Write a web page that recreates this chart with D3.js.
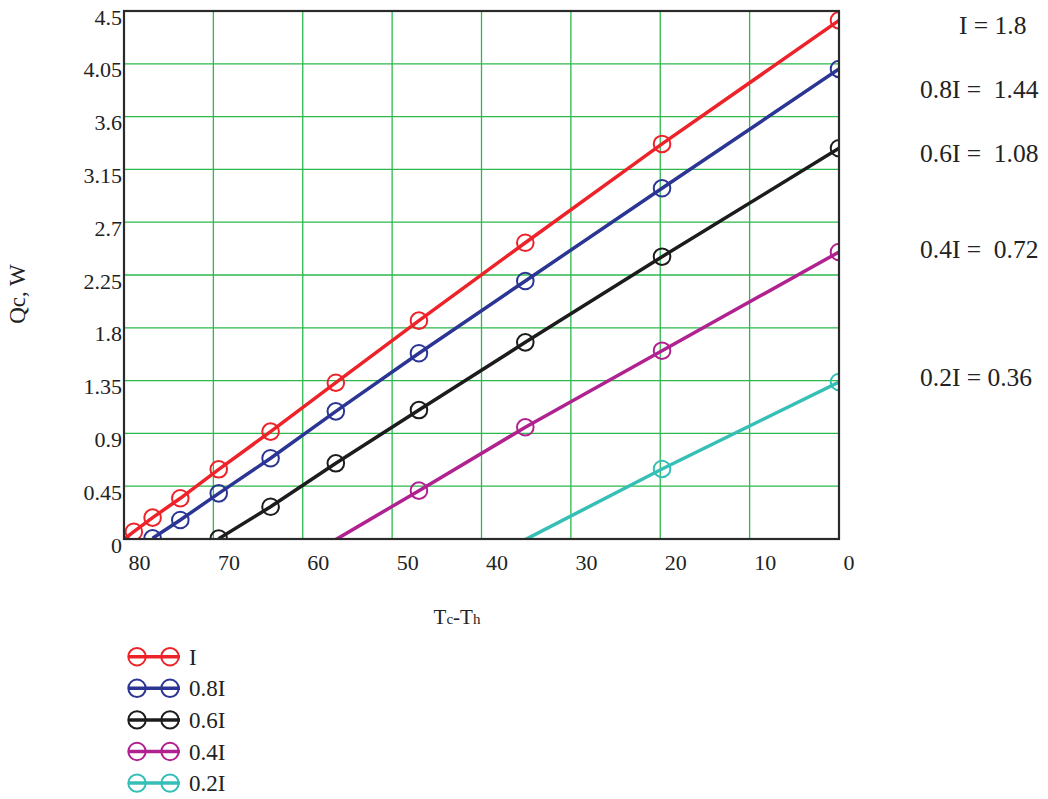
<!DOCTYPE html>
<html>
<head>
<meta charset="utf-8">
<script src="https://cdn.jsdelivr.net/npm/d3@7"></script>
<style>
  html, body { margin: 0; padding: 0; background: #ffffff; }
  svg { display: block; font-family: "Liberation Serif", "DejaVu Serif", serif; }
</style>
</head>
<body>
<svg id="chart" width="1048" height="799"></svg>
<script>
// Temperature difference Tc-Th at which each curve is evaluated
const deltaT = [0, 19.8, 35.1, 47.0, 56.3, 63.6, 69.4, 73.7, 76.8, 78.9, 80.3];

// Cooling power Qc (W) for each current fraction; null = not evaluated
const qcI   = [4.42, 3.367, 2.525, 1.861, 1.332, 0.915, 0.594, 0.347, 0.182, 0.062, -0.02];
const qc08I = [4.006, 2.989, 2.199, 1.583, 1.088, 0.688, 0.389, 0.162, 0.006, null, null];
const qc06I = [3.33, 2.406, 1.676, 1.099, 0.645, 0.275, 0.003, null, null, null, null];
const qc04I = [2.446, 1.605, 0.952, 0.412, -0.005, null, null, null, null, null, null];
const qc02I = [1.338, 0.597, -0.005, null, null, null, null, null, null, null, null];

const seriesNames  = ["I", "0.8I", "0.6I", "0.4I", "0.2I"];
const seriesColors = ["#ee2229", "#2b3593", "#1c1c1c", "#b0228f", "#35bfb6"];
const currentLabels = ["I = 1.8", "0.8I =\u00a0 1.44", "0.6I =\u00a0 1.08", "0.4I =\u00a0 0.72", "0.2I = 0.36"];

const xTicks = [80, 70, 60, 50, 40, 30, 20, 10, 0];
const yTicks = [0, 0.45, 0.9, 1.35, 1.8, 2.25, 2.7, 3.15, 3.6, 4.05, 4.5];

const svg = d3.select("#chart");
const plot = { left: 124, top: 11, right: 839, bottom: 539 };

const x = d3.scaleLinear().domain([80, 0]).range([plot.left, plot.right]);
const y = d3.scaleLinear().domain([0, 4.5]).range([plot.bottom, plot.top]);

svg.append("defs").append("clipPath").attr("id", "plot-clip")
  .append("rect")
  .attr("x", plot.left).attr("y", plot.top)
  .attr("width", plot.right - plot.left).attr("height", plot.bottom - plot.top);

// Grid
const grid = svg.append("g").attr("stroke", "#2db84d").attr("stroke-width", 1.3);
grid.selectAll("line.v").data(xTicks).join("line")
  .attr("x1", d => x(d)).attr("x2", d => x(d))
  .attr("y1", plot.top).attr("y2", plot.bottom);
grid.selectAll("line.h").data(yTicks).join("line")
  .attr("x1", plot.left).attr("x2", plot.right)
  .attr("y1", d => y(d)).attr("y2", d => y(d));

// Axes (labels only; the frame is drawn separately)
const xAxis = svg.append("g")
  .attr("transform", `translate(0,${plot.bottom})`)
  .call(d3.axisBottom(x).tickValues(xTicks).tickSize(0).tickFormat(d3.format("d")));
xAxis.select(".domain").remove();
xAxis.selectAll("text")
  .attr("font-family", "Liberation Serif").attr("font-size", 22)
  .attr("fill", "#222").attr("text-anchor", "start")
  .attr("dx", 4).attr("y", 31).attr("dy", 0);

const yAxis = svg.append("g")
  .attr("transform", `translate(${plot.left},0)`)
  .call(d3.axisLeft(y).tickValues(yTicks).tickSize(0).tickFormat(d => String(+d.toFixed(2))));
yAxis.select(".domain").remove();
yAxis.selectAll("text")
  .attr("font-family", "Liberation Serif").attr("font-size", 22)
  .attr("fill", "#222").attr("x", -2).attr("y", 6).attr("dy", "0.32em");

// Curves
const series = [qcI, qc08I, qc06I, qc04I, qc02I].map((vals, i) => ({
  name: seriesNames[i],
  color: seriesColors[i],
  points: deltaT.map((t, j) => ({ t, q: vals[j] })).filter(p => p.q !== null)
}));

const line = d3.line().x(p => x(p.t)).y(p => y(p.q));
const curves = svg.append("g").attr("clip-path", "url(#plot-clip)");
series.forEach(s => {
  curves.append("path").datum(s.points)
    .attr("d", line).attr("fill", "none")
    .attr("stroke", s.color).attr("stroke-width", 3.5);
  curves.selectAll(null).data(s.points.filter(p => p.q >= 0)).join("circle")
    .attr("cx", p => x(p.t)).attr("cy", p => y(p.q)).attr("r", 8.3)
    .attr("fill", "none").attr("stroke", s.color).attr("stroke-width", 2);
});

// Frame
svg.append("rect")
  .attr("x", plot.left).attr("y", plot.top)
  .attr("width", plot.right - plot.left).attr("height", plot.bottom - plot.top)
  .attr("fill", "none").attr("stroke", "#2a2a2a").attr("stroke-width", 2.2);

// Axis titles
svg.append("text")
  .attr("transform", "translate(25,294) rotate(-90)")
  .attr("text-anchor", "middle").attr("font-size", 23).attr("fill", "#222")
  .text("Qc, W");

const xt = svg.append("text")
  .attr("x", 457).attr("y", 624).attr("text-anchor", "middle")
  .attr("font-size", 21).attr("fill", "#222");
xt.append("tspan").text("T");
xt.append("tspan").attr("font-size", 15).text("c");
xt.append("tspan").text("-T");
xt.append("tspan").attr("font-size", 15).text("h");

// Current values
const labelX = [959, 920, 920, 920, 920];
const labelY = [34, 98, 162, 258, 386];
svg.append("g").selectAll("text").data(currentLabels).join("text")
  .attr("x", (d, i) => labelX[i]).attr("y", (d, i) => labelY[i])
  .attr("font-size", 25.5).attr("fill", "#222")
  .text(d => d);

// Legend
const legend = svg.append("g");
series.forEach((s, i) => {
  const ly = 656.7 + i * 31.6;
  const g = legend.append("g");
  g.append("line").attr("x1", 128).attr("x2", 180).attr("y1", ly).attr("y2", ly)
    .attr("stroke", s.color).attr("stroke-width", 3.5);
  [137, 170].forEach(cx => g.append("circle")
    .attr("cx", cx).attr("cy", ly).attr("r", 8.7)
    .attr("fill", "none").attr("stroke", s.color).attr("stroke-width", 2));
  g.append("text").attr("x", 189).attr("y", ly + 8)
    .attr("font-size", 23).attr("fill", "#222").text(s.name);
});
</script>
</body>
</html>
